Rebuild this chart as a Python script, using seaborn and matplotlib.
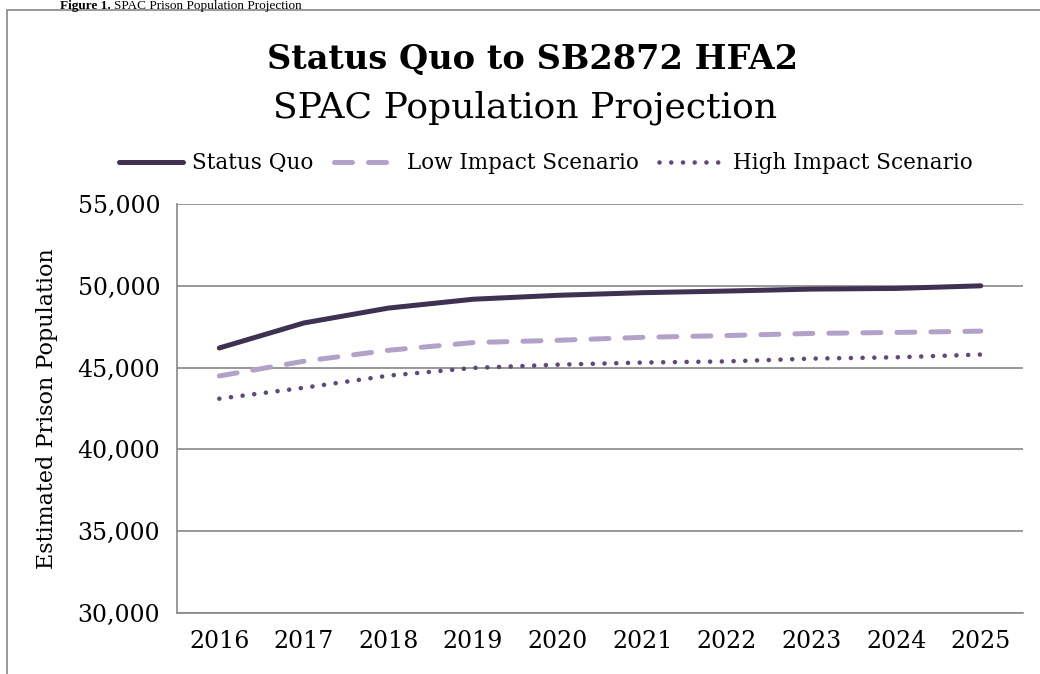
import seaborn as sns
import matplotlib.pyplot as plt
import numpy as np
import pandas as pd
from matplotlib.patches import Rectangle

years = [2016, 2017, 2018, 2019, 2020, 2021, 2022, 2023, 2024, 2025]
status_quo = [46200, 47730, 48640, 49180, 49420, 49580, 49680, 49800, 49840, 50000]
low_impact = [44490, 45390, 46060, 46530, 46670, 46850, 46960, 47090, 47150, 47230]
high_impact = [43100, 43770, 44510, 44980, 45180, 45310, 45380, 45550, 45630, 45800]
series_names = ["Status Quo", "Low Impact Scenario", "High Impact Scenario"]

df = pd.DataFrame({
    "year": years * 3,
    "pop": status_quo + low_impact + high_impact,
    "scenario": np.repeat(series_names, len(years)),
})

sns.set_style("white")
plt.rcParams["font.family"] = ["DejaVu Serif"]
plt.rcParams["text.color"] = "black"
plt.rcParams["axes.labelcolor"] = "black"

grey = "#878787"
fig = plt.figure(figsize=(10.4, 6.74), dpi=100)
ax = fig.add_axes([0.1702, 0.0905, 0.8135, 0.6068])

styles = {
    "Status Quo": dict(color="#3F3151", lw=3.6, ls="-", solid_capstyle="round"),
    "Low Impact Scenario": dict(color="#B3A2C7", lw=3.6, ls=(0, (3.6, 3.2)), dash_capstyle="round"),
    "High Impact Scenario": dict(color="#5F497A", lw=3.3, ls=(0, (0.01, 2.55)), dash_capstyle="round"),
}
for name in series_names:
    sub = df[df["scenario"] == name]
    sns.lineplot(data=sub, x="year", y="pop", ax=ax, label=name, **styles[name])

ax.set_xlim(2015.5, 2025.5)
ax.set_ylim(30000, 55000)
ax.set_yticks(range(30000, 55001, 5000))
ax.set_yticklabels([f"{v:,}" for v in range(30000, 55001, 5000)])
ax.set_xticks(np.arange(2015.5, 2026, 1))
ax.set_xticklabels([])
ax.set_xticks(years, minor=True)
ax.set_xticklabels([str(y) for y in years], minor=True)
ax.tick_params(axis="x", which="major", length=7, width=1, color=grey, direction="out")
ax.tick_params(axis="x", which="minor", length=0, pad=12, labelsize=17, labelcolor="black")
ax.tick_params(axis="y", length=6, width=1, color=grey, direction="out", labelsize=17,
               pad=6, labelcolor="black")
ax.grid(axis="y", color=grey, lw=1.2)
ax.grid(axis="x", visible=False)
for s in ["top", "right"]:
    ax.spines[s].set_visible(False)
for s in ["left", "bottom"]:
    ax.spines[s].set_color(grey)
    ax.spines[s].set_linewidth(1.2)
ax.set_xlabel("")
ax.set_ylabel("Estimated Prison Population", fontsize=16, labelpad=14)

ax.legend(loc="center", bbox_to_anchor=(0.5245, 0.758), bbox_transform=fig.transFigure,
          ncol=3, frameon=False, fontsize=15.5, handlelength=3.0, handletextpad=0.42,
          columnspacing=0.93)

fig.text(0.512, 0.912, "Status Quo to SB2872 HFA2", ha="center", va="center",
         fontsize=24.2, fontweight="bold")
fig.text(0.505, 0.84, "SPAC Population Projection", ha="center", va="center", fontsize=26)

fig.patches.append(Rectangle((7 / 1040, -0.1), 1.2, 1 - 10 / 674 + 0.1, transform=fig.transFigure,
                             fill=False, edgecolor=grey, lw=1.2))
fig.text(60 / 1040, 1 - 8.5 / 674, "Figure 1.", fontsize=9.5, fontweight="bold",
         family="Liberation Serif", va="baseline")
fig.text(114 / 1040, 1 - 8.5 / 674, "SPAC Prison Population Projection", fontsize=9.5,
         family="Liberation Serif", va="baseline")

fig.savefig("out.png", dpi=100)
